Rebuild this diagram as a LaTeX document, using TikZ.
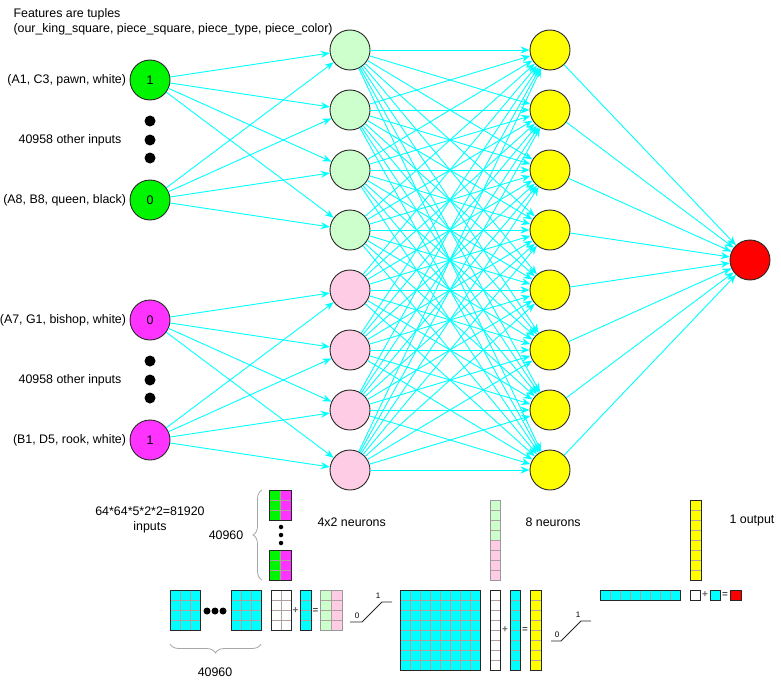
\documentclass[tikz,border=0pt]{standalone}
\usepackage{fontspec}
\setmainfont{Liberation Sans}
\usetikzlibrary{arrows.meta, positioning, decorations.pathreplacing}

\definecolor{edgecyan}{RGB}{0,255,255}
\definecolor{inGreen}{RGB}{0,245,0}
\definecolor{inMagenta}{RGB}{255,51,255}
\definecolor{hidGreen}{RGB}{204,255,204}
\definecolor{hidPink}{RGB}{255,204,229}
\definecolor{hidYellow}{RGB}{255,255,0}
\definecolor{outRed}{RGB}{255,0,0}
\definecolor{gridgray}{RGB}{175,160,160}

% cells of a matrix: x, y, columns, rows, cell width, cell height, fill
\newcommand{\cellgrid}[7]{%
  \foreach \cx in {1,...,#3}{%
    \foreach \ry in {1,...,#4}{%
      \filldraw[fill=#7, draw=gridgray, line width=0.8pt] ({#1+(\cx-1)*#5},{#2+(\ry-1)*#6}) rectangle ++(#5,#6);
    }%
  }%
}

\begin{document}
\begin{tikzpicture}[
    x=1pt, y=-1pt,
    font=\fontsize{12.4}{15}\selectfont,
    >=Stealth,
    neuron/.style={circle, draw=black!85, line width=0.9pt, minimum size=40pt, inner sep=0pt},
    link/.style={-{Stealth[length=9pt, width=7pt]}, draw=edgecyan, line width=0.9pt},
    bigdot/.style={circle, fill=black, inner sep=0pt, minimum size=11pt},
    middot/.style={circle, fill=black, inner sep=0pt, minimum size=7pt},
    smalldot/.style={circle, fill=black, inner sep=0pt, minimum size=4.5pt},
    matframe/.style={draw=black!85, line width=1pt},
    softframe/.style={draw=gray!80, line width=1pt},
    bracegray/.style={decorate, decoration={brace, amplitude=9pt}, draw=gray!70, line width=0.8pt},
    opsign/.style={font=\fontsize{10}{12}\selectfont, inner sep=0pt},
    tinylabel/.style={font=\fontsize{8}{9}\selectfont, inner sep=0pt},
    relu/.style={draw=black!85, line width=0.8pt}
]
\useasboundingbox (0,0) rectangle (781,682);

% header
\node[anchor=west, align=left] (header) at (10,22) {Features are tuples\\(our\_king\_square, piece\_square, piece\_type, piece\_color)};

% input layer
\node[neuron, fill=inGreen] (inA) at (150,80) {1};
\node[neuron, fill=inGreen] (inB) at (150,200) {0};
\node[neuron, fill=inMagenta] (inC) at (150,320) {0};
\node[neuron, fill=inMagenta] (inD) at (150,440) {1};
\node[left=0pt of inA] (labA) {(A1, C3, pawn, white)};
\node[left=0pt of inB] (labB) {(A8, B8, queen, black)};
\node[left=0pt of inC] (labC) {(A7, G1, bishop, white)};
\node[left=0pt of inD] (labD) {(B1, D5, rook, white)};
\foreach \k/\py in {1/121, 2/140, 3/158}
  \node[bigdot] (dotA\k) at (150,\py) {};
\foreach \k/\py in {1/361, 2/380, 3/398}
  \node[bigdot] (dotB\k) at (150,\py) {};
\node (otherA) at (70,140) {40958 other inputs};
\node (otherB) at (70,380) {40958 other inputs};

% hidden layers and output
\foreach \k/\col in {1/hidGreen, 2/hidGreen, 3/hidGreen, 4/hidGreen, 5/hidPink, 6/hidPink, 7/hidPink, 8/hidPink}
  \node[neuron, fill=\col] (hA\k) at (350,{50+60*(\k-1)}) {};
\foreach \k in {1,...,8}
  \node[neuron, fill=hidYellow] (hB\k) at (550,{50+60*(\k-1)}) {};
\node[neuron, fill=outRed] (out) at (750,260) {};

% connections
\foreach \s in {inA, inB}
  \foreach \t in {1,...,4}
    \draw[link] (\s) -- (hA\t);
\foreach \s in {inC, inD}
  \foreach \t in {5,...,8}
    \draw[link] (\s) -- (hA\t);
\foreach \s in {1,...,8}
  \foreach \t in {1,...,8}
    \draw[link] (hA\s) -- (hB\t);
\foreach \s in {1,...,8}
  \draw[link] (hB\s) -- (out);

% first layer as matrices
\node[align=center] (featcount) at (150,520) {64*64*5*2*2=81920\\inputs};
\draw[bracegray] (262,580) -- (262,490);
\node (sizeA) at (226,535) {40960};
\cellgrid{269}{490}{1}{3}{11}{10}{inGreen}
\cellgrid{280}{490}{1}{3}{11}{10}{inMagenta}
\draw[matframe] (269,490) rectangle (291,520);
\foreach \k/\py in {1/527, 2/535, 3/543}
  \node[smalldot] (sdot\k) at (281,\py) {};
\cellgrid{269}{550}{1}{3}{11}{10}{inGreen}
\cellgrid{280}{550}{1}{3}{11}{10}{inMagenta}
\draw[matframe] (269,550) rectangle (291,580);
\node[anchor=west] (neurA) at (314,522) {4x2 neurons};

\cellgrid{170}{590}{3}{4}{10}{10}{edgecyan}
\draw[matframe] (170,590) rectangle (200,630);
\foreach \k/\px in {1/207, 2/215, 3/223}
  \node[middot] (mdot\k) at (\px,611) {};
\cellgrid{231}{590}{3}{4}{10}{10}{edgecyan}
\draw[matframe] (231,590) rectangle (261,630);
\draw[bracegray] (261,644) -- (170,644);
\node (sizeB) at (215,672) {40960};
\cellgrid{271}{590}{2}{4}{10}{10}{white}
\draw[matframe] (271,590) rectangle (291,630);
\node[opsign, text=black!60] (plusA) at (295.5,611) {\textbf{+}};
\cellgrid{300}{590}{1}{4}{11}{10}{edgecyan}
\draw[matframe] (300,590) rectangle (311,630);
\node[opsign] (eqA) at (315.5,611) {=};
\cellgrid{320}{590}{1}{4}{11}{10}{hidGreen}
\cellgrid{331}{590}{1}{4}{11}{10}{hidPink}
\draw[softframe] (320,590) rectangle (342,630);
\coordinate (reluA) at (350,622);
\draw[relu] (reluA) -- ++(12,0) -- ++(20,-20) -- ++(10,0);
\node[tinylabel] (zeroA) at (357,616) {0};
\node[tinylabel] (oneA) at (378,596) {1};

% second layer as matrices
\cellgrid{490}{500}{1}{4}{10}{10}{hidGreen}
\cellgrid{490}{540}{1}{4}{10}{10}{hidPink}
\draw[softframe] (490,500) rectangle (500,580);
\node[anchor=west] (neurB) at (522,522) {8 neurons};
\cellgrid{400}{590}{8}{8}{10}{10}{edgecyan}
\draw[matframe] (400,590) rectangle (480,670);
\cellgrid{490}{590}{1}{8}{10}{10}{white}
\draw[matframe] (490,590) rectangle (500,670);
\node[opsign, text=black!60] (plusB) at (505,630) {\textbf{+}};
\cellgrid{510}{590}{1}{8}{10}{10}{edgecyan}
\draw[matframe] (510,590) rectangle (520,670);
\node[opsign] (eqB) at (525,630) {=};
\cellgrid{530}{590}{1}{8}{11}{10}{hidYellow}
\draw[matframe] (530,590) rectangle (541,670);
\coordinate (reluB) at (551,641);
\draw[relu] (reluB) -- ++(10,0) -- ++(20,-20) -- ++(10,0);
\node[tinylabel] (zeroB) at (557,635) {0};
\node[tinylabel] (oneB) at (578,615) {1};

% output as matrices
\cellgrid{690}{500}{1}{8}{11}{10}{hidYellow}
\draw[matframe] (690,500) rectangle (701,580);
\node[anchor=west] (neurC) at (726,521) {1 output};
\cellgrid{600}{590}{8}{1}{10}{10}{edgecyan}
\draw[matframe] (600,590) rectangle (680,600);
\draw[matframe, fill=white] (690,590) rectangle (700,600);
\node[opsign, text=black!60] (plusC) at (705,595) {\textbf{+}};
\draw[matframe, fill=edgecyan] (710,590) rectangle (720,600);
\node[opsign] (eqC) at (725,595) {=};
\draw[matframe, fill=outRed] (730,590) rectangle (741,600);
\end{tikzpicture}
\end{document}
